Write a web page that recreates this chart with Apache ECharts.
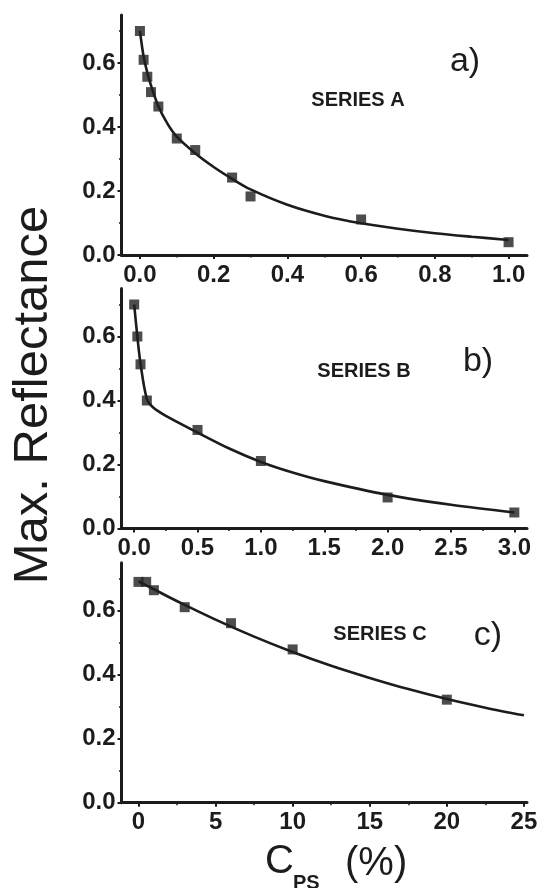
<!DOCTYPE html>
<html>
<head>
<meta charset="utf-8">
<script src="https://cdn.jsdelivr.net/npm/echarts@6/dist/echarts.min.js"></script>
<style>
html,body{margin:0;padding:0;background:#fff;}
#chart{width:544px;height:888px;}
</style>
</head>
<body>
<div id="chart"></div>
<script>
// ---- Data ----
// Panel a) SERIES A
const aX = [0, 0.01, 0.02, 0.03, 0.05, 0.1, 0.15, 0.25, 0.3, 0.6, 1.0];
const aY = [0.70, 0.61, 0.557, 0.509, 0.464, 0.364, 0.328, 0.242, 0.183, 0.111, 0.040];
const aFitX = [0, 0.01, 0.02, 0.03, 0.05, 0.075, 0.1, 0.15, 0.2, 0.25, 0.3, 0.4, 0.5, 0.6, 0.7, 0.8, 0.9, 1.0];
const aFitY = [0.70, 0.62, 0.57, 0.53, 0.465, 0.41, 0.37, 0.318, 0.275, 0.238, 0.205, 0.157, 0.123, 0.099, 0.082, 0.068, 0.057, 0.047];
// Panel b) SERIES B
const bX = [0, 0.025, 0.05, 0.1, 0.5, 1.0, 2.0, 3.0];
const bY = [0.70, 0.60, 0.513, 0.40, 0.308, 0.211, 0.097, 0.05];
const bFitX = [0, 0.025, 0.05, 0.1, 0.15, 0.25, 0.5, 0.75, 1.0, 1.25, 1.5, 2.0, 2.5, 3.0];
const bFitY = [0.70, 0.60, 0.515, 0.405, 0.378, 0.352, 0.300, 0.250, 0.208, 0.175, 0.148, 0.105, 0.074, 0.050];
// Panel c) SERIES C
const cX = [0, 0.5, 1, 3, 6, 10, 20];
const cY = [0.69, 0.69, 0.664, 0.611, 0.561, 0.479, 0.322];
const cFitX = [0, 1, 2, 3, 5, 7.5, 10, 12.5, 15, 17.5, 20, 22.5, 25];
const cFitY = [0.692, 0.667, 0.642, 0.618, 0.572, 0.519, 0.471, 0.428, 0.390, 0.355, 0.324, 0.297, 0.273];

// Tick values
const aTicks = [0, 0.2, 0.4, 0.6, 0.8, 1.0];
const aMinor = [0.1, 0.3, 0.5, 0.7, 0.9];
const bTicks = [0, 0.5, 1.0, 1.5, 2.0, 2.5, 3.0];
const bMinor = [0.25, 0.75, 1.25, 1.75, 2.25, 2.75];
const cTicks = [0, 5, 10, 15, 20, 25];
const cMinor = [2.5, 7.5, 12.5, 17.5, 22.5];
const yTicks = [0, 0.2, 0.4, 0.6];
const yMinor = [0.1, 0.3, 0.5, 0.7];

const panelLabels = ['a)', 'b)', 'c)'];
const seriesNames = ['SERIES A', 'SERIES B', 'SERIES C'];
const yTitle = 'Max. Reflectance';

// ---- Layout / style ----
const INK = '#1c1c1c';
const FONT = '"Liberation Sans", Arial, Helvetica, sans-serif';
const grids = [
  {left: 121.5, top: 15, width: 405.5, height: 240},
  {left: 121.5, top: 288.5, width: 405.5, height: 240},
  {left: 121.5, top: 562.7, width: 405.5, height: 240}
];
const xRanges = [[-0.05, 1.05], [-0.1, 3.1], [-1.1, 25.2]];
const xTickSets = [aTicks, bTicks, cTicks];
const xMinorSets = [aMinor, bMinor, cMinor];
const xFmt = [v => v.toFixed(1), v => v.toFixed(1), v => String(Math.round(v))];

const xAxes = [], yAxes = [];
for (let i = 0; i < 3; i++) {
  xAxes.push({
    type: 'value', gridIndex: i, position: 'bottom',
    min: xRanges[i][0], max: xRanges[i][1],
    axisLine: {show: true, onZero: false, lineStyle: {color: INK, width: 3}},
    axisTick: {show: true, customValues: xTickSets[i], length: 4, inside: false, lineStyle: {color: INK, width: 2}},
    axisLabel: {show: true, customValues: xTickSets[i], formatter: xFmt[i], margin: 8,
      color: INK, fontFamily: FONT, fontWeight: 'bold', fontSize: 24},
    splitLine: {show: false}
  });
  xAxes.push({
    type: 'value', gridIndex: i, position: 'bottom',
    min: xRanges[i][0], max: xRanges[i][1],
    axisLine: {show: false, onZero: false},
    axisTick: {show: true, customValues: xMinorSets[i], length: 2.5, lineStyle: {color: INK, width: 1.5}},
    axisLabel: {show: false},
    splitLine: {show: false}
  });
  yAxes.push({
    type: 'value', gridIndex: i, position: 'left',
    min: 0, max: 0.75,
    axisLine: {show: true, onZero: false, lineStyle: {color: INK, width: 3}},
    axisTick: {show: true, customValues: yTicks, length: 4, lineStyle: {color: INK, width: 2}},
    axisLabel: {show: true, customValues: yTicks, formatter: v => v.toFixed(1), margin: 6,
      color: INK, fontFamily: FONT, fontWeight: 'bold', fontSize: 24},
    splitLine: {show: false}
  });
  yAxes.push({
    type: 'value', gridIndex: i, position: 'left',
    min: 0, max: 0.75,
    axisLine: {show: false, onZero: false},
    axisTick: {show: true, customValues: yMinor, length: 2.5, lineStyle: {color: INK, width: 1.5}},
    axisLabel: {show: false},
    splitLine: {show: false}
  });
}

const pts = (xs, ys) => xs.map((x, k) => [x, ys[k]]);
const sets = [[aX, aY, aFitX, aFitY], [bX, bY, bFitX, bFitY], [cX, cY, cFitX, cFitY]];
const series = [];
sets.forEach((s, i) => {
  series.push({
    type: 'line', xAxisIndex: i * 2, yAxisIndex: i * 2,
    data: pts(s[2], s[3]), smooth: 0.3,
    showSymbol: false, symbol: 'none',
    lineStyle: {color: INK, width: 2.6}, silent: true, z: 2
  });
  series.push({
    type: 'scatter', xAxisIndex: i * 2, yAxisIndex: i * 2,
    data: pts(s[0], s[1]), symbol: 'rect', symbolSize: 10,
    itemStyle: {color: '#202020'}, silent: true, z: 3
  });
});

const labelPos = [[465, 62], [478, 362], [488, 636]];
const namePos = [[358, 100], [364, 371], [380, 634]];
const graphics = [];
for (let i = 0; i < 3; i++) {
  graphics.push({type: 'text', x: labelPos[i][0], y: labelPos[i][1],
    style: {text: panelLabels[i], fill: INK, font: '34px ' + FONT, align: 'center', verticalAlign: 'middle'}});
  graphics.push({type: 'text', x: namePos[i][0], y: namePos[i][1],
    style: {text: seriesNames[i], fill: INK, font: 'bold 20px ' + FONT, align: 'center', verticalAlign: 'middle'}});
}
graphics.push({type: 'text', x: 33, y: 395, rotation: Math.PI / 2,
  style: {text: yTitle, fill: INK, font: '49px ' + FONT, align: 'center', verticalAlign: 'middle'}});
graphics.push({type: 'text', x: 265, y: 862,
  style: {text: 'C', fill: INK, font: '40px ' + FONT, align: 'left', verticalAlign: 'middle'}});
graphics.push({type: 'text', x: 293, y: 883,
  style: {text: 'PS', fill: INK, font: 'bold 20px ' + FONT, align: 'left', verticalAlign: 'middle'}});
graphics.push({type: 'text', x: 345, y: 864,
  style: {text: '(%)', fill: INK, font: '40px ' + FONT, align: 'left', verticalAlign: 'middle'}});

const chart = echarts.init(document.getElementById('chart'), null, {renderer: 'canvas'});
chart.setOption({
  animation: false,
  backgroundColor: '#fff',
  grid: grids,
  xAxis: xAxes,
  yAxis: yAxes,
  series: series,
  graphic: graphics
});
</script>
</body>
</html>
